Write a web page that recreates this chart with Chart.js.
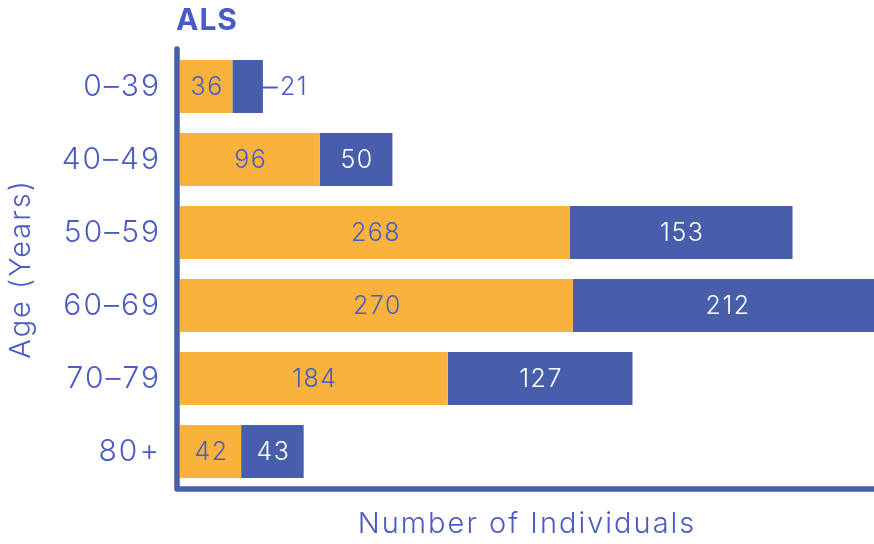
<!DOCTYPE html>
<html>
<head>
<meta charset="utf-8">
<script src="https://cdn.jsdelivr.net/npm/chart.js@4/dist/chart.umd.min.js"></script>
<style>
html,body{margin:0;padding:0;background:#fff;overflow:hidden;}
#wrap{width:874px;height:544px;position:relative;}
</style>
</head>
<body>
<div id="wrap"><canvas id="c"></canvas></div>
<script>
const categories = ["0–39", "40–49", "50–59", "60–69", "70–79", "80+"];
const seriesA = [36, 96, 268, 270, 184, 42];
const seriesB = [21, 50, 153, 212, 127, 43];
const chartTitle = "ALS";
const xTitle = "Number of Individuals";
const yTitle = "Age (Years)";

const ORANGE = "#F9B23B";
const BLUE = "#475EAA";
const TEXT = "#4A5BC6";
const FONT = "Inter, 'Open Sans', sans-serif";

const spacing = {
  id: "spacing",
  beforeDraw(chart) { chart.ctx.letterSpacing = "2px"; }
};

const overlay = {
  id: "overlay",
  beforeDatasetsDraw(chart) {
    const ctx = chart.ctx, a = chart.chartArea;
    ctx.save();
    ctx.letterSpacing = "1px";
    ctx.fillStyle = TEXT;
    ctx.font = "bold 30px " + FONT;
    ctx.textAlign = "left";
    ctx.textBaseline = "middle";
    ctx.fillText(chartTitle, a.left - 4, 21);
    ctx.restore();
  },
  afterDatasetsDraw(chart) {
    const ctx = chart.ctx, a = chart.chartArea;
    ctx.save();
    ctx.strokeStyle = BLUE;
    ctx.lineWidth = 5.5;
    ctx.lineCap = "round";
    ctx.lineJoin = "round";
    ctx.beginPath();
    ctx.moveTo(a.left - 3, a.top - 1);
    ctx.lineTo(a.left - 3, a.bottom + 1);
    ctx.lineTo(a.right + 10, a.bottom + 1);
    ctx.stroke();
    ctx.letterSpacing = "1.5px";
    ctx.font = "300 25px " + FONT;
    ctx.textBaseline = "middle";
    chart.data.datasets.forEach((ds, di) => {
      const meta = chart.getDatasetMeta(di);
      meta.data.forEach((el, i) => {
        const v = ds.data[i];
        const x0 = Math.min(el.base, el.x), x1 = Math.min(Math.max(el.base, el.x), a.right);
        const w = x1 - x0;
        if (w < 40) {
          ctx.strokeStyle = TEXT;
          ctx.lineWidth = 2;
          ctx.beginPath();
          ctx.moveTo(x1 - 8, el.y + 1);
          ctx.lineTo(x1 + 14, el.y + 1);
          ctx.stroke();
          ctx.fillStyle = TEXT;
          ctx.textAlign = "left";
          ctx.fillText(String(v), x1 + 17, el.y + 1);
        } else {
          ctx.fillStyle = di === 0 ? TEXT : "#ffffff";
          ctx.textAlign = "center";
          ctx.fillText(String(v), (el.base + el.x) / 2 + 1, el.y + 1);
        }
      });
    });
    ctx.restore();
  }
};

new Chart(document.getElementById("c"), {
  type: "bar",
  data: {
    labels: categories,
    datasets: [
      { data: seriesA, backgroundColor: ORANGE, borderWidth: 0, categoryPercentage: 1, barPercentage: 0.726 },
      { data: seriesB, backgroundColor: BLUE, borderWidth: 0, categoryPercentage: 1, barPercentage: 0.726 }
    ]
  },
  options: {
    indexAxis: "y",
    responsive: true,
    maintainAspectRatio: false,
    animation: false,
    layout: { padding: { top: 50, right: 0, left: 0, bottom: 0 } },
    plugins: { legend: { display: false }, tooltip: { enabled: false } },
    scales: {
      x: {
        stacked: true,
        min: 0,
        max: 477,
        grid: { display: false },
        border: { display: false },
        ticks: { display: false },
        title: { display: true, text: xTitle, color: TEXT, font: { family: FONT, size: 29, weight: 300 }, padding: { top: 14, bottom: 2 } },
        afterFit(s) { s.height = 56; }
      },
      y: {
        stacked: true,
        grid: { display: false },
        border: { display: false },
        ticks: { color: TEXT, font: { family: FONT, size: 30, weight: 300 }, padding: 11 },
        title: { display: true, text: yTitle, color: TEXT, font: { family: FONT, size: 29, weight: 300 }, padding: { top: 4, bottom: 0 } },
        afterFit(s) { s.width = 180; }
      }
    }
  },
  plugins: [spacing, overlay]
});
</script>
</body>
</html>
